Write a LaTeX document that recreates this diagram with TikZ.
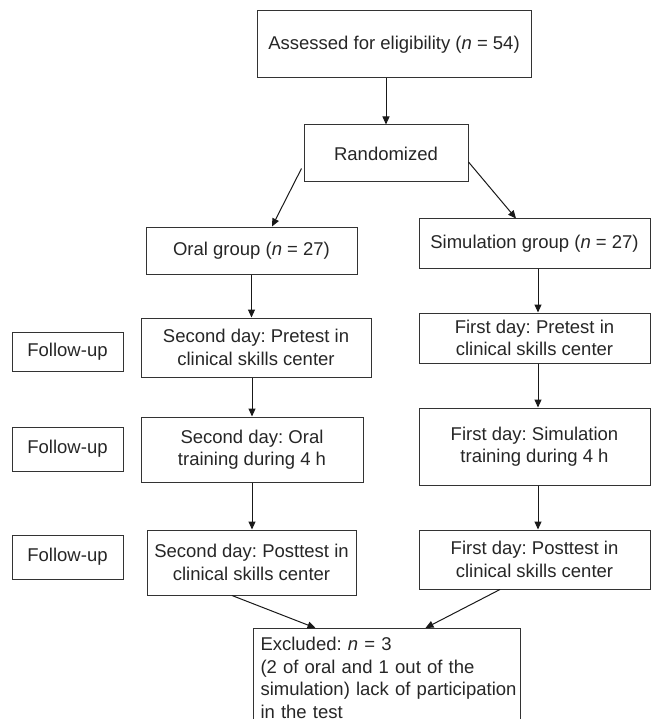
\documentclass[tikz,border=0pt]{standalone}
\usepackage{fontspec}
\setmainfont{Liberation Sans}
\usetikzlibrary{arrows.meta}

\begin{document}
\begin{tikzpicture}[x=1pt,y=-1pt,
	stage/.style={draw=black!80, line width=1pt, text=black!85, align=center, inner sep=0pt, font=\fontsize{18.5}{22.5}\selectfont\frenchspacing},
	link/.style={-{Triangle[length=8pt,width=7pt]}, line width=1pt, black!90}]

	\useasboundingbox (0,0) rectangle (652,719);

	% top
	\node 	(assess)	at	(394,44.5) 	[stage, minimum width=274pt, minimum height=67pt]{Assessed for eligibility (\textit{n} = 54)};

	\node 	(rand)		at	(386,153.5) 	[stage, minimum width=164pt, minimum height=57pt]{Randomized};

	% oral arm
	\node 	(oral)		at	(251.5,250.5) 	[stage, minimum width=211pt, minimum height=47pt]{Oral group (\textit{n} = 27)};

	\node 	(opre)		at	(256,347.5) 	[stage, minimum width=230pt, minimum height=59pt]{Second day: Pretest in\\clinical skills center};

	\node 	(otrain)	at	(252,449.5) 	[stage, minimum width=222pt, minimum height=65pt]{Second day: Oral\\training during 4 h};

	\node 	(opost)		at	(251.5,562.5) 	[stage, minimum width=209pt, minimum height=65pt]{Second day: Posttest in\\clinical skills center};

	% simulation arm
	\node 	(sim)		at	(534.5,243.5) 	[stage, minimum width=231pt, minimum height=49pt]{Simulation group (\textit{n} = 27)};

	\node 	(spre)		at	(534.5,338) 	[stage, minimum width=231pt, minimum height=50pt]{First day: Pretest in\\clinical skills center};

	\node 	(strain)	at	(534.5,446.5) 	[stage, minimum width=231pt, minimum height=77pt]{First day: Simulation\\training during 4 h};

	\node 	(spost)		at	(534.5,559.5) 	[stage, minimum width=231pt, minimum height=59pt]{First day: Posttest in\\clinical skills center};

	% follow-up
	\node 	(fu1)		at	(67.5,351.5) 	[stage, minimum width=111pt, minimum height=39pt]{Follow-up};
	\node 	(fu2)		at	(67.5,449) 	[stage, minimum width=111pt, minimum height=44pt]{Follow-up};
	\node 	(fu3)		at	(67.5,557) 	[stage, minimum width=111pt, minimum height=44pt]{Follow-up};

	% bottom, runs off the page
	\node 	(excl)		at	(253,628) 	[stage, anchor=north west, align=left, text width=253pt, inner xsep=7pt, inner ysep=9pt]{Excluded: \textit{n} = 3\\(2 of oral and 1 out of the\\\mbox{simulation) lack of participation}\\in the test\\[4pt]};

	\draw[link]	(assess.south -| rand.north)	to	(rand.north);
	\draw[link]	([shift={(-2,-14)}]rand.south west)	to	([xshift=20.5pt]oral.north);
	\draw[link]	([shift={(0,8.5)}]rand.east)	to	([xshift=-18.5pt]sim.north);

	\draw[link]	(oral.south)	to	(oral.south |- opre.north);
	\draw[link]	(otrain.north |- opre.south)	to	(otrain.north);
	\draw[link]	(otrain.south)	to	(otrain.south |- opost.north);

	\draw[link]	([xshift=3.5pt]sim.south)	to	([xshift=3.5pt]spre.north);
	\draw[link]	([xshift=3.5pt]spre.south)	to	([xshift=3.5pt]strain.north);
	\draw[link]	([xshift=3.5pt]strain.south)	to	([xshift=3.5pt]spost.north);

	\draw[link]	([xshift=-19.5pt]opost.south)	to	([xshift=-71.5pt]excl.north);
	\draw[link]	([xshift=-34.5pt]spost.south)	to	([xshift=38.5pt]excl.north);

\end{tikzpicture}
\end{document}
